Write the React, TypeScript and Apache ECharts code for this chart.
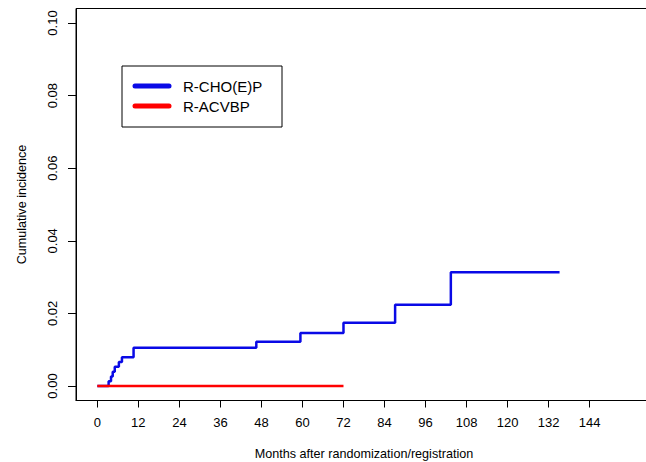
import React, { useEffect, useRef } from "react";
import * as echarts from "echarts";

const blueTimes = [0, 3.3, 4.0, 4.5, 5.1, 6.3, 7.2, 10.6, 46.5, 59.4, 72.0, 87.1, 103.4, 135.2];
const blueValues = [0, 0.0013, 0.0026, 0.0039, 0.0053, 0.0066, 0.0079, 0.0105, 0.0122, 0.0146, 0.0174, 0.0224, 0.0313, 0.0313];
const redTimes = [0, 72];
const redValues = [0, 0];
const xTicks = [0, 12, 24, 36, 48, 60, 72, 84, 96, 108, 120, 132, 144];
const yTicks = [0, 0.02, 0.04, 0.06, 0.08, 0.1];
const seriesNames = ["R-CHO(E)P", "R-ACVBP"];
const xTitle = "Months after randomization/registration";
const yTitle = "Cumulative incidence";

const FONT = "'Liberation Sans', Arial, Helvetica, sans-serif";
const BLUE = "#0a0ae6";
const RED = "#ff0000";

export default function App() {
  const ref = useRef<HTMLDivElement>(null);
  useEffect(() => {
    if (!ref.current) return;
    const chart = echarts.init(ref.current, undefined, { renderer: "svg" });
    const blue = blueTimes.map((t, i) => [t, blueValues[i]]);
    const red = redTimes.map((t, i) => [t, redValues[i]]);
    chart.setOption({
      animation: false,
      backgroundColor: "#ffffff",
      textStyle: { fontFamily: FONT },
      grid: {
        left: 76,
        top: 8.5,
        height: 392,
        width: 576,
        outerBoundsMode: "none",
        containLabel: false,
        show: true,
        borderColor: "#000",
        borderWidth: 1,
        backgroundColor: "transparent",
      },
      xAxis: {
        type: "value",
        min: -6.24,
        max: 162.24,
        name: xTitle,
        nameLocation: "middle",
        nameGap: 47,
        nameTextStyle: { fontSize: 12.6, color: "#000", fontFamily: FONT },
        axisLine: { show: true, onZero: false, lineStyle: { color: "#000", width: 1 } },
        axisTick: { show: true, inside: false, length: 7, customValues: xTicks, lineStyle: { color: "#000" } },
        axisLabel: {
          show: true,
          customValues: xTicks,
          margin: 15,
          fontSize: 13,
          color: "#000",
          fontFamily: FONT,
        },
        splitLine: { show: false },
      },
      yAxis: {
        type: "value",
        min: -0.004,
        max: 0.104,
        name: yTitle,
        nameLocation: "middle",
        nameGap: 48,
        nameRotate: 90,
        nameTextStyle: { fontSize: 12.6, color: "#000", fontFamily: FONT },
        axisLine: { show: true, onZero: false, lineStyle: { color: "#000", width: 1 } },
        axisTick: { show: true, inside: false, length: 8, customValues: yTicks, lineStyle: { color: "#000" } },
        axisLabel: {
          show: true,
          customValues: yTicks,
          rotate: 90,
          margin: 17,
          fontSize: 13,
          color: "#000",
          fontFamily: FONT,
          formatter: (v: number) => v.toFixed(2),
        },
        splitLine: { show: false },
      },
      series: [
        {
          name: seriesNames[0],
          type: "line",
          step: "end",
          data: blue,
          showSymbol: false,
          symbol: "none",
          lineStyle: { color: BLUE, width: 2.5 },
          z: 2,
        },
        {
          name: seriesNames[1],
          type: "line",
          data: red,
          showSymbol: false,
          symbol: "none",
          lineStyle: { color: RED, width: 2.5 },
          z: 3,
        },
      ],
      graphic: [
        {
          type: "rect",
          shape: { x: 122, y: 66, width: 160, height: 61 },
          style: { fill: "#fff", stroke: "#000", lineWidth: 1 },
          z: 10,
        },
        {
          type: "line",
          shape: { x1: 135, y1: 86, x2: 169, y2: 86 },
          style: { stroke: BLUE, lineWidth: 5, lineCap: "round" },
          z: 11,
        },
        {
          type: "line",
          shape: { x1: 135, y1: 106, x2: 169, y2: 106 },
          style: { stroke: RED, lineWidth: 5, lineCap: "round" },
          z: 11,
        },
        {
          type: "text",
          x: 183,
          y: 86,
          style: {
            text: seriesNames[0],
            fontSize: 15,
            fontFamily: FONT,
            fill: "#000",
            verticalAlign: "middle",
          },
          z: 11,
        },
        {
          type: "text",
          x: 183,
          y: 106,
          style: {
            text: seriesNames[1],
            fontSize: 15,
            fontFamily: FONT,
            fill: "#000",
            verticalAlign: "middle",
          },
          z: 11,
        },
      ],
    });
    return () => chart.dispose();
  }, []);
  return (
    <div
      ref={ref}
      style={{ position: "absolute", left: 0, top: 0, width: 646, height: 462, background: "#fff" }}
    />
  );
}
